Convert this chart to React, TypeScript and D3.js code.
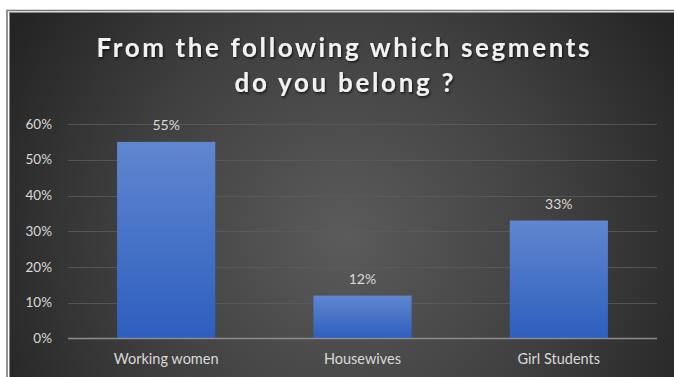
import React from "react";
import * as d3 from "d3";

const categories: string[] = ["Working women", "Housewives", "Girl Students"];
const values: number[] = [55, 12, 33];
const yTicks: number[] = [0, 10, 20, 30, 40, 50, 60];
const titleLines: string[] = ["From the following which segments", "do you belong ?"];

const W = 674;
const H = 377;
const plot = { left: 68, right: 657, top: 124, bottom: 338.5 };
const FONT = "Lato, 'Open Sans', sans-serif";

export default function App() {
  const x = d3
    .scaleBand<string>()
    .domain(categories)
    .range([plot.left, plot.right])
    .paddingInner(0.5)
    .paddingOuter(0.25);
  const y = d3.scaleLinear().domain([0, 60]).range([plot.bottom, plot.top]);

  return (
    <svg
      width={W}
      height={H}
      style={{ position: "fixed", left: 0, top: 0, background: "#ffffff" }}
    >
      <defs>
        <radialGradient id="bg" gradientUnits="userSpaceOnUse" cx={345} cy={235} r={390}>
          <stop offset="0" stopColor="#5b5b5b" />
          <stop offset="0.55" stopColor="#404040" />
          <stop offset="1" stopColor="#242424" />
        </radialGradient>
        <linearGradient id="bar" x1="0" y1="0" x2="0" y2="1">
          <stop offset="0" stopColor="#6086cf" />
          <stop offset="1" stopColor="#2d5fbf" />
        </linearGradient>
        <filter id="shadow" x="-10%" y="-30%" width="120%" height="160%">
          <feDropShadow dx="1" dy="1.5" stdDeviation="1.2" floodColor="#000" floodOpacity="0.7" />
        </filter>
      </defs>

      {/* frame */}
      <rect x={7} y={10.5} width={W} height={H} fill="none" stroke="#7a7a7a" strokeWidth={1.6} />
      <rect x={9.5} y={12.5} width={W} height={H} fill="url(#bg)" stroke="#8a8a8a" strokeWidth={1} />

      {/* title */}
      <g fontFamily={FONT} fontWeight={700} fill="#f2f2f2" textAnchor="middle" filter="url(#shadow)">
        <text x={343} y={57} fontSize={26} textLength={493} lengthAdjust="spacing">
          {titleLines[0]}
        </text>
        <text x={344} y={92} fontSize={26} textLength={219} lengthAdjust="spacing">
          {titleLines[1]}
        </text>
      </g>

      {/* gridlines */}
      {yTicks
        .filter((t) => t !== 0)
        .map((t) => (
          <line
            key={t}
            x1={plot.left}
            x2={plot.right}
            y1={Math.round(y(t)) + 0.5}
            y2={Math.round(y(t)) + 0.5}
            stroke="#5c5c5c"
            strokeWidth={1}
            opacity={0.8}
          />
        ))}

      {/* y tick labels */}
      <g fontFamily={FONT} fontSize={13.5} fill="#d9d9d9" textAnchor="end">
        {yTicks.map((t) => (
          <text key={t} x={52} y={y(t) + 4.5}>
            {t}%
          </text>
        ))}
      </g>

      {/* bars */}
      {categories.map((c, i) => (
        <rect
          key={c}
          x={x(c)!}
          y={y(values[i])}
          width={x.bandwidth()}
          height={y(0) - y(values[i])}
          fill="url(#bar)"
        />
      ))}

      {/* baseline */}
      <line x1={plot.left} x2={plot.right} y1={y(0)} y2={y(0)} stroke="#8c8c8c" strokeWidth={1.5} />

      {/* data labels */}
      <g fontFamily={FONT} fontSize={14} fill="#d9d9d9" textAnchor="middle">
        {categories.map((c, i) => (
          <text key={c} x={x(c)! + x.bandwidth() / 2} y={y(values[i]) - 11.5}>
            {values[i]}%
          </text>
        ))}
      </g>

      {/* category labels */}
      <g fontFamily={FONT} fontSize={14.5} fill="#d9d9d9" textAnchor="middle">
        {categories.map((c) => (
          <text key={c} x={x(c)! + x.bandwidth() / 2} y={363.5}>
            {c}
          </text>
        ))}
      </g>
    </svg>
  );
}
